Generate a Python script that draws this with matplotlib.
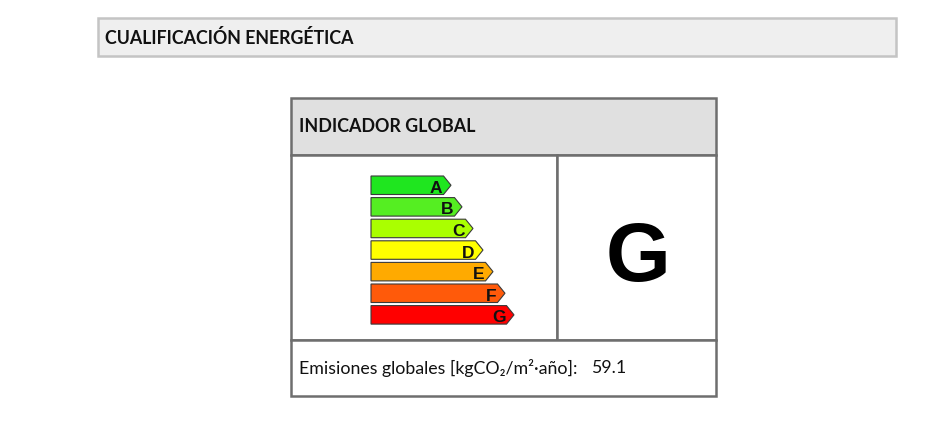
import matplotlib
matplotlib.use("Agg")
import matplotlib.pyplot as plt
from matplotlib.patches import Rectangle, Polygon

# data
grades = ["A", "B", "C", "D", "E", "F", "G"]
grade_colors = ["#1fe61f", "#55ee22", "#aaff00", "#ffff00", "#ffaa00", "#ff5a0a", "#ff0000"]
bar_tips = [80, 91, 102, 112, 122, 134, 143]   # length of each arrow, px
rating = "G"
emissions = 59.1
title = "CUALIFICACIÓN ENERGÉTICA"
panel_title = "INDICADOR GLOBAL"
emis_label = "Emisiones globales [kgCO\u2082/m\u00b2\u00b7año]:"

W, H = 953, 435
fig = plt.figure(figsize=(W / 100, H / 100), dpi=100)
ax = fig.add_axes([0, 0, 1, 1])
ax.set_xlim(0, W)
ax.set_ylim(H, 0)
ax.axis("off")

sans = ["Lato", "DejaVu Sans"]
arial = ["Liberation Sans", "DejaVu Sans"]
edge = "#6e6e6e"

# top header box
ax.add_patch(Rectangle((98, 19), 798, 38, fc="#efefef", ec="#c4c4c4", lw=1.8))
ax.text(105, 38.5, title, family=sans, weight="bold", fontsize=12.8, va="center", ha="left", color="#111111")

# table
x0, x1, xm = 291, 716, 557.5
y0, y1, y2, y3 = 99, 155.5, 340.5, 397
ax.add_patch(Rectangle((x0, y0), x1 - x0, y1 - y0, fc="#e0e0e0", ec=edge, lw=1.8))
ax.add_patch(Rectangle((x0, y1), xm - x0, y2 - y1, fc="white", ec=edge, lw=1.8))
ax.add_patch(Rectangle((xm, y1), x1 - xm, y2 - y1, fc="white", ec=edge, lw=1.8))
ax.add_patch(Rectangle((x0, y2), x1 - x0, y3 - y2, fc="white", ec=edge, lw=1.8))

ax.text(299, 127, panel_title, family=sans, weight="bold", fontsize=12.9, va="center", ha="left", color="#111111")

# energy scale arrows
left, top, pitch, h, tip = 371, 177, 21.6, 18.5, 7.5
for i, (g, c, L) in enumerate(zip(grades, grade_colors, bar_tips)):
    yt = top + i * pitch
    yb = yt + h
    xr = left + L
    pts = [(left, yt), (xr - tip, yt), (xr, (yt + yb) / 2), (xr - tip, yb), (left, yb)]
    ax.add_patch(Polygon(pts, closed=True, fc=c, ec="#3a3a3a", lw=0.8))
    ax.text(xr - tip - 1, (yt + yb) / 2 + 2, g, family=arial, weight="bold", fontsize=12.5,
            ha="right", va="center", color="#111111")

# rating letter
ax.text((xm + x1) / 2 + 1, 259, rating, family=arial, weight="bold", fontsize=60,
        ha="center", va="center", color="black")

# emissions row
ax.text(299, 368, emis_label, family=sans, fontsize=12.8, va="center", ha="left", color="#111111")
ax.text(591, 368, f"{emissions}", family=sans, fontsize=12.8, va="center", ha="left", color="#111111")

fig.savefig("out.png", dpi=100)
